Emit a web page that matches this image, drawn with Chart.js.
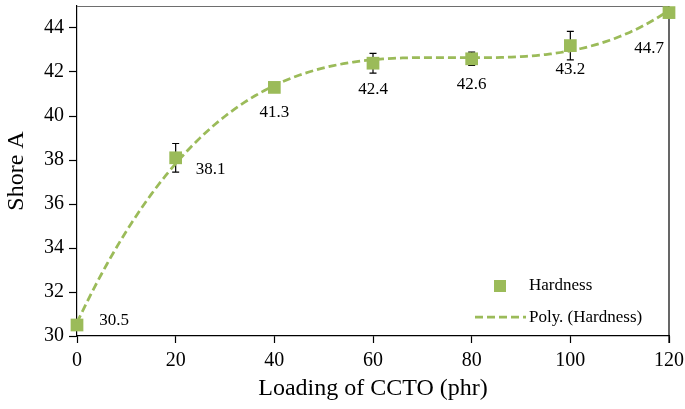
<!DOCTYPE html>
<html>
<head>
<meta charset="utf-8">
<script src="https://cdn.jsdelivr.net/npm/chart.js@4/dist/chart.umd.min.js"></script>
<style>
  html, body { margin: 0; padding: 0; background: #fff; }
  #wrap { width: 685px; height: 409px; position: relative; }
</style>
</head>
<body>
<div id="wrap"><canvas id="c" width="685" height="409"></canvas></div>
<script>
// Loading of CCTO (phr) and measured Shore A hardness
const loading = [0, 20, 40, 60, 80, 100, 120];
const hardness = [30.5, 38.1, 41.3, 42.4, 42.6, 43.2, 44.7];
// standard deviation of each hardness measurement
const hardnessErr = [0, 0.65, 0, 0.45, 0.3, 0.65, 0];
const xTicks = [0, 20, 40, 60, 80, 100, 120];
const yTicks = [30, 32, 34, 36, 38, 40, 42, 44];

const GREEN = '#9BBB59';
const SERIF = '"Liberation Serif", "Times New Roman", serif';

// third-order least-squares polynomial trendline of the hardness data
function polyFit(xs, ys, order) {
  const n = order + 1;
  const A = Array.from({length: n}, () => new Array(n + 1).fill(0));
  for (let k = 0; k < xs.length; k++) {
    for (let i = 0; i < n; i++) {
      for (let j = 0; j < n; j++) A[i][j] += Math.pow(xs[k], i + j);
      A[i][n] += ys[k] * Math.pow(xs[k], i);
    }
  }
  for (let c = 0; c < n; c++) {
    let p = c;
    for (let r = c + 1; r < n; r++) if (Math.abs(A[r][c]) > Math.abs(A[p][c])) p = r;
    [A[c], A[p]] = [A[p], A[c]];
    for (let r = 0; r < n; r++) {
      if (r === c) continue;
      const f = A[r][c] / A[c][c];
      for (let j = c; j <= n; j++) A[r][j] -= f * A[c][j];
    }
  }
  return A.map((row, i) => row[n] / row[i]);
}
const coef = polyFit(loading, hardness, 3);
const trend = [];
for (let x = loading[0]; x <= loading[loading.length - 1]; x += 1) {
  trend.push({x: x, y: coef.reduce((s, c, i) => s + c * Math.pow(x, i), 0)});
}

// label placement relative to each marker (pixels)
const labelOffsets = [[37, -4], [35, 12], [0, 25], [0, 26], [0, 26], [0, 24], [-20, 36]];

const errorBars = {
  id: 'errorBars',
  beforeDatasetsDraw(chart) {
    const {ctx, scales: {x, y}} = chart;
    ctx.save();
    ctx.strokeStyle = '#000';
    ctx.lineWidth = 1.2;
    loading.forEach((lx, i) => {
      const e = hardnessErr[i];
      if (!e) return;
      const px = x.getPixelForValue(lx);
      const top = y.getPixelForValue(hardness[i] + e);
      const bot = y.getPixelForValue(hardness[i] - e);
      ctx.beginPath();
      ctx.moveTo(px, top); ctx.lineTo(px, bot);
      ctx.moveTo(px - 3.5, top); ctx.lineTo(px + 3.5, top);
      ctx.moveTo(px - 3.5, bot); ctx.lineTo(px + 3.5, bot);
      ctx.stroke();
    });
    ctx.restore();
  }
};

const frameAndLabels = {
  id: 'frameAndLabels',
  beforeDatasetsDraw(chart) {
    const {ctx, chartArea: a} = chart;
    ctx.save();
    // top and right frame
    ctx.lineWidth = 1;
    ctx.strokeStyle = '#6e6e6e';
    ctx.beginPath();
    ctx.moveTo(a.left, a.top + 0.5); ctx.lineTo(a.right, a.top + 0.5);
    ctx.stroke();
    ctx.strokeStyle = '#000';
    ctx.lineWidth = 1.2;
    ctx.beginPath();
    ctx.moveTo(a.right, a.top); ctx.lineTo(a.right, a.bottom + 7);
    ctx.stroke();
    ctx.restore();
  },
  afterDraw(chart) {
    const {ctx, chartArea: a, scales: {x, y}} = chart;
    ctx.save();
    // value labels
    ctx.fillStyle = '#000';
    ctx.font = '17px ' + SERIF;
    ctx.textAlign = 'center';
    ctx.textBaseline = 'middle';
    hardness.forEach((v, i) => {
      const px = x.getPixelForValue(loading[i]);
      const py = y.getPixelForValue(v);
      ctx.fillText(v.toFixed(1), px + labelOffsets[i][0], py + labelOffsets[i][1]);
    });

    // legend
    const lx = a.right - 194, ly = a.bottom - 50;
    ctx.fillStyle = GREEN;
    ctx.fillRect(lx + 19, ly - 6, 12, 12);
    ctx.strokeStyle = GREEN;
    ctx.lineWidth = 2.75;
    ctx.setLineDash([8, 4]);
    ctx.beginPath();
    ctx.moveTo(lx, ly + 31); ctx.lineTo(lx + 51, ly + 31);
    ctx.stroke();
    ctx.setLineDash([]);
    ctx.fillStyle = '#000';
    ctx.textAlign = 'left';
    ctx.fillText('Hardness', lx + 54, ly);
    ctx.fillText('Poly. (Hardness)', lx + 54, ly + 32);
    ctx.restore();
  }
};

new Chart(document.getElementById('c'), {
  type: 'scatter',
  data: {
    datasets: [
      {
        label: 'Hardness',
        data: loading.map((lx, i) => ({x: lx, y: hardness[i]})),
        pointStyle: 'rect',
        pointRadius: 9,
        pointHoverRadius: 9,
        backgroundColor: GREEN,
        borderColor: GREEN,
        borderWidth: 0,
        clip: false,
        order: 2
      },
      {
        type: 'line',
        label: 'Poly. (Hardness)',
        data: trend,
        borderColor: GREEN,
        borderWidth: 2.75,
        borderDash: [8, 4],
        pointRadius: 0,
        fill: false,
        tension: 0,
        clip: false,
        order: 1
      }
    ]
  },
  options: {
    responsive: false,
    animation: false,
    layout: { autoPadding: false, padding: { left: 0, right: 16, top: 6, bottom: 0 } },
    plugins: { legend: { display: false }, tooltip: { enabled: false } },
    scales: {
      x: {
        type: 'linear',
        min: 0, max: 120,
        afterBuildTicks(s) { s.ticks = xTicks.map(v => ({value: v})); },
        afterFit(s) { s.height = 73; s.paddingLeft = 0; s.paddingRight = 0; },
        grid: { drawOnChartArea: false, drawTicks: true, tickLength: 7, color: '#000', tickWidth: 1.2 },
        border: { display: true, color: '#000', width: 1.2 },
        ticks: { color: '#000', padding: 6, maxRotation: 0, font: { family: SERIF, size: 20 } },
        title: { display: true, text: 'Loading of CCTO (phr)', color: '#000',
                 font: { family: SERIF, size: 24 }, padding: { top: 0, bottom: 6 } }
      },
      y: {
        type: 'linear',
        min: 30, max: 45,
        afterBuildTicks(s) { s.ticks = yTicks.map(v => ({value: v})); },
        afterFit(s) { s.width = 77; s.paddingTop = 0; s.paddingBottom = 0; },
        grid: { drawOnChartArea: false, drawTicks: true, tickLength: 8, color: '#000', tickWidth: 1.2 },
        border: { display: true, color: '#000', width: 1.2 },
        ticks: { color: '#000', padding: 5, font: { family: SERIF, size: 20 } },
        title: { display: true, text: 'Shore A', color: '#000',
                 font: { family: SERIF, size: 24 }, padding: { top: 2, bottom: 0 } }
      }
    }
  },
  plugins: [errorBars, frameAndLabels]
});
</script>
</body>
</html>
